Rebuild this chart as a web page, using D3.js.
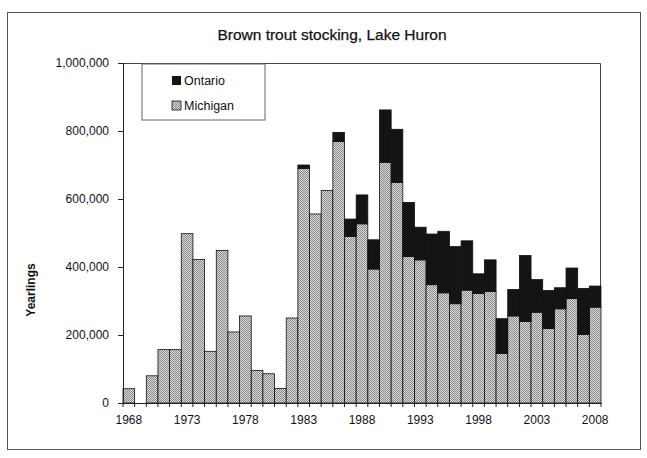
<!DOCTYPE html>
<html lang="en">
<head>
  <meta charset="UTF-8">
  <title>Brown trout stocking, Lake Huron</title>
  <script src="https://d3js.org/d3.v7.min.js"></script>
  <style>
    body { margin: 0; background: #fff; }
    text { font-family: "Liberation Sans", Arial, sans-serif; fill: #111; }
    .axis path, .axis line { stroke: #222; }
  </style>
</head>
<body>
  <svg id="chart" width="647" height="458"></svg>
  <script>
    // data
    const years = d3.range(1968, 2009);
    const michigan = [42000, 0, 80000, 157000, 157000, 498000, 422000, 152000, 449000, 209000,
      256000, 96000, 86000, 43000, 250000, 690000, 556000, 625000, 769000, 490000,
      527000, 394000, 708000, 649000, 431000, 421000, 348000, 324000, 292000, 332000,
      322000, 328000, 146000, 256000, 240000, 267000, 219000, 277000, 307000, 202000, 282000];
    const ontario = [0, 0, 0, 0, 0, 0, 0, 0, 0, 0,
      0, 0, 0, 0, 0, 10000, 0, 0, 27000, 51000,
      85000, 86000, 154000, 156000, 159000, 96000, 149000, 181000, 168000, 145000,
      58000, 93000, 102000, 78000, 194000, 96000, 112000, 62000, 90000, 135000, 62000];
    const tickYears = [1968, 1973, 1978, 1983, 1988, 1993, 1998, 2003, 2008];
    const yTicks = [0, 200000, 400000, 600000, 800000, 1000000];

    const svg = d3.select('#chart');
    const margin = { left: 123, right: 46, top: 63, bottom: 55 };
    const width = 647 - margin.left - margin.right;
    const height = 458 - margin.top - margin.bottom;

    // stipple pattern for Michigan (fine checker)
    const defs = svg.append('defs');
    const pat = defs.append('pattern').attr('id', 'stip')
      .attr('width', 2).attr('height', 2).attr('patternUnits', 'userSpaceOnUse');
    pat.append('rect').attr('width', 2).attr('height', 2).attr('fill', '#dadada');
    pat.append('rect').attr('x', 0).attr('y', 0).attr('width', 1).attr('height', 1).attr('fill', '#8a8a8a');
    pat.append('rect').attr('x', 1).attr('y', 1).attr('width', 1).attr('height', 1).attr('fill', '#8a8a8a');

    // outer frame
    svg.append('rect').attr('x', 7.5).attr('y', 12.5).attr('width', 633).attr('height', 437)
      .attr('fill', 'none').attr('stroke', '#555');

    svg.append('text').attr('x', 332).attr('y', 40).attr('text-anchor', 'middle')
      .style('font-size', '15.5px').style('stroke', '#111').style('stroke-width', 0.25)
      .text('Brown trout stocking, Lake Huron');

    const g = svg.append('g').attr('transform', `translate(${margin.left},${margin.top})`);

    const x = d3.scaleBand().domain(years).range([0, width]).padding(0);
    const y = d3.scaleLinear().domain([0, 1000000]).range([height, 0]);

    // plot frame (top and right)
    g.append('path').attr('d', `M0,0.5H${width - 0.5}V${height}`)
      .attr('fill', 'none').attr('stroke', '#444');

    const rows = years.map((yr, i) => ({ year: yr, mi: michigan[i], on: ontario[i] }));

    g.selectAll('.mi').data(rows).enter().append('rect').attr('class', 'mi')
      .attr('x', d => x(d.year)).attr('width', x.bandwidth())
      .attr('y', d => y(d.mi)).attr('height', d => y(0) - y(d.mi))
      .attr('fill', 'url(#stip)').attr('stroke', d => d.mi > 0 ? '#111' : 'none').attr('stroke-width', 0.8);

    g.selectAll('.on').data(rows.filter(d => d.on > 0)).enter().append('rect').attr('class', 'on')
      .attr('x', d => x(d.year)).attr('width', x.bandwidth())
      .attr('y', d => y(d.mi + d.on)).attr('height', d => y(d.mi) - y(d.mi + d.on))
      .attr('fill', '#141414').attr('stroke', '#111').attr('stroke-width', 0.8);

    // y axis
    const yAxis = g.append('g').attr('class', 'axis')
      .call(d3.axisLeft(y).tickValues(yTicks).tickFormat(d3.format(',')).tickSize(5).tickPadding(9));
    yAxis.selectAll('text').style('font-size', '12px');

    // x axis with small ticks at every band edge
    const xAxis = g.append('g').attr('class', 'axis').attr('transform', `translate(0,${height})`)
      .call(d3.axisBottom(x).tickValues(tickYears).tickSize(0).tickPadding(12));
    xAxis.selectAll('text').style('font-size', '12px');
    g.append('g').selectAll('line').data(years.concat([2009])).enter().append('line')
      .attr('x1', d => d === 2009 ? width : x(d)).attr('x2', d => d === 2009 ? width : x(d))
      .attr('y1', height).attr('y2', height + 4).attr('stroke', '#222');

    svg.append('text').attr('transform', 'translate(35,290) rotate(-90)')
      .attr('text-anchor', 'middle').style('font-size', '12px').style('font-weight', 'bold')
      .text('Yearlings');

    // legend
    const lg = svg.append('g').attr('transform', 'translate(142,64)');
    lg.append('rect').attr('width', 123).attr('height', 56).attr('fill', '#fff').attr('stroke', '#666');
    lg.append('rect').attr('x', 30).attr('y', 12).attr('width', 9).attr('height', 9).attr('fill', '#141414');
    lg.append('text').attr('x', 42).attr('y', 21).style('font-size', '12.5px').text('Ontario');
    lg.append('rect').attr('x', 30).attr('y', 37).attr('width', 9).attr('height', 9)
      .attr('fill', 'url(#stip)').attr('stroke', '#111').attr('stroke-width', 0.8);
    lg.append('text').attr('x', 42).attr('y', 46).style('font-size', '12.5px').text('Michigan');
  </script>
</body>
</html>
